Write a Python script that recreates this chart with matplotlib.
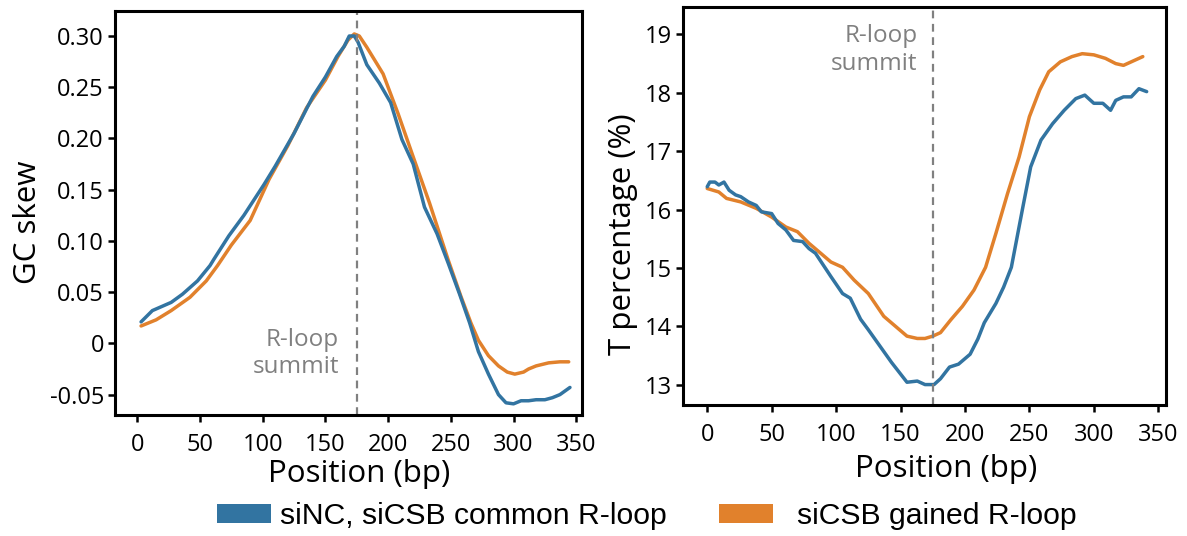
import matplotlib
matplotlib.use("Agg")
import matplotlib.pyplot as plt
from matplotlib.patches import Patch

# ---------------- data ----------------
gc_blue_x = [3, 12, 27, 36, 48, 58, 61, 73, 85, 101, 110, 125, 140, 150, 159, 165, 169, 173,
             176, 183, 193, 202, 211, 220, 229, 239, 248, 257, 265, 272, 280, 288, 294, 300,
             306, 312, 318, 325, 331, 337, 345]
gc_blue_y = [0.021, 0.032, 0.040, 0.048, 0.061, 0.076, 0.082, 0.105, 0.125, 0.155, 0.173, 0.205,
             0.241, 0.260, 0.280, 0.290, 0.300, 0.300, 0.294, 0.272, 0.254, 0.235, 0.199, 0.175,
             0.133, 0.107, 0.078, 0.048, 0.020, -0.008, -0.030, -0.050, -0.058, -0.059, -0.056,
             -0.056, -0.055, -0.055, -0.053, -0.050, -0.043]

gc_orange_x = [3, 15, 27, 42, 55, 64, 75, 90, 105, 120, 135, 150, 160, 168, 173, 177, 183, 196,
               208, 220, 233, 248, 258, 266, 272, 280, 288, 295, 301, 308, 312, 318, 328, 337, 344]
gc_orange_y = [0.017, 0.023, 0.032, 0.045, 0.061, 0.076, 0.096, 0.120, 0.160, 0.193, 0.230,
               0.257, 0.280, 0.296, 0.302, 0.300, 0.289, 0.263, 0.224, 0.182, 0.137, 0.081,
               0.046, 0.020, 0.003, -0.012, -0.022, -0.028, -0.030, -0.028, -0.025, -0.022,
               -0.019, -0.018, -0.018]

t_blue_x = [0, 2, 6, 9, 13, 17, 22, 26, 32, 38, 42, 50, 55, 61, 67, 74, 79, 84, 90, 96, 105,
            111, 119, 125, 134, 143, 149, 155, 163, 169, 176, 181, 188, 195, 204, 210, 215, 224,
            230, 236, 245, 251, 259, 268, 277, 286, 293, 300, 307, 313, 317, 323, 329, 335, 341]
t_blue_y = [16.39, 16.47, 16.47, 16.42, 16.47, 16.33, 16.25, 16.22, 16.13, 16.07, 15.96, 15.93,
            15.76, 15.65, 15.47, 15.45, 15.33, 15.25, 15.05, 14.85, 14.56, 14.48, 14.12, 13.94,
            13.66, 13.38, 13.21, 13.04, 13.06, 13.00, 13.00, 13.10, 13.30, 13.35, 13.52, 13.78,
            14.06, 14.39, 14.67, 15.01, 16.05, 16.73, 17.19, 17.47, 17.70, 17.90, 17.96, 17.82,
            17.82, 17.70, 17.87, 17.93, 17.93, 18.07, 18.02]

t_orange_x = [0, 9, 15, 26, 38, 50, 61, 70, 79, 87, 96, 105, 114, 125, 137, 146, 155, 163, 169,
              175, 181, 189, 198, 207, 216, 224, 233, 242, 250, 258, 265, 274, 283, 291, 300, 309,
              317, 323, 329, 338]
t_orange_y = [16.36, 16.30, 16.19, 16.13, 16.02, 15.87, 15.70, 15.62, 15.42, 15.27, 15.10,
              15.01, 14.79, 14.56, 14.17, 14.00, 13.83, 13.79, 13.79, 13.83, 13.89, 14.11,
              14.34, 14.62, 15.01, 15.59, 16.27, 16.90, 17.59, 18.05, 18.36, 18.53, 18.62,
              18.67, 18.65, 18.59, 18.50, 18.47, 18.53, 18.62]

summit_x = 175
x_ticks = [0, 50, 100, 150, 200, 250, 300, 350]
gc_ticks = [-0.05, 0, 0.05, 0.10, 0.15, 0.20, 0.25, 0.30]
gc_ticklabels = ["-0.05", "0", "0.05", "0.10", "0.15", "0.20", "0.25", "0.30"]
t_ticks = [13, 14, 15, 16, 17, 18, 19]
labels = ["siNC, siCSB common R-loop", "siCSB gained R-loop"]

BLUE = "#3274A1"
ORANGE = "#E1812C"
GRAY = "#808080"
FONT = "Open Sans"

W, H = 1187, 536
fig = plt.figure(figsize=(W / 100, H / 100), dpi=100)

def px_axes(l, r, t, b):
    return fig.add_axes([l / W, 1 - b / H, (r - l) / W, (b - t) / H])

ax1 = px_axes(115, 582, 11, 415)
ax2 = px_axes(683, 1166, 7, 405)

def style(ax):
    for s in ax.spines.values():
        s.set_linewidth(2.2)
        s.set_color("black")
    ax.tick_params(axis="both", direction="out", length=5, width=1.8, labelsize=17, color="black")
    ax.tick_params(axis="x", pad=8)
    ax.tick_params(axis="y", pad=3)
    for lab in ax.get_xticklabels() + ax.get_yticklabels():
        lab.set_fontfamily(FONT)

# left panel
ax1.plot(gc_orange_x, gc_orange_y, color=ORANGE, lw=2.5, solid_capstyle="round")
ax1.plot(gc_blue_x, gc_blue_y, color=BLUE, lw=2.5, solid_capstyle="round")
ax1.axvline(summit_x, color=GRAY, lw=1.6, ls=(0, (3.5, 2.5)))
ax1.text(161, -0.010, "R-loop\nsummit", ha="right", va="center", color=GRAY,
         fontsize=17.5, family=FONT, linespacing=1.2)
ax1.set_xlim(-17.8, 354.6)
ax1.set_ylim(-0.0699, 0.3244)
ax1.set_xticks(x_ticks)
ax1.set_yticks(gc_ticks)
ax1.set_yticklabels(gc_ticklabels)
ax1.set_xlabel("Position (bp)", fontsize=22.5, family=FONT, labelpad=1.5)
ax1.set_ylabel("GC skew", fontsize=22.5, family=FONT, labelpad=5)
ax1.xaxis.label.set_x(0.5235)
ax1.yaxis.label.set_y(0.478)
style(ax1)

# right panel
ax2.plot(t_orange_x, t_orange_y, color=ORANGE, lw=2.5, solid_capstyle="round")
ax2.plot(t_blue_x, t_blue_y, color=BLUE, lw=2.5, solid_capstyle="round")
ax2.axvline(summit_x, color=GRAY, lw=1.6, ls=(0, (3.5, 2.5)))
ax2.text(163, 18.73, "R-loop\nsummit", ha="right", va="center", color=GRAY,
         fontsize=17.5, family=FONT, linespacing=1.2)
ax2.set_xlim(-18.8, 356)
ax2.set_ylim(12.65, 19.47)
ax2.set_xticks(x_ticks)
ax2.set_yticks(t_ticks)
ax2.set_xlabel("Position (bp)", fontsize=22.5, family=FONT, labelpad=5)
ax2.set_ylabel("T percentage (%)", fontsize=22.5, family=FONT, labelpad=5)
ax2.xaxis.label.set_x(0.5445)
ax2.yaxis.label.set_y(0.43)
style(ax2)

# legends
h1 = Patch(facecolor=BLUE, edgecolor="none")
h2 = Patch(facecolor=ORANGE, edgecolor="none")
common = dict(frameon=False, borderpad=0, borderaxespad=0, handlelength=1.8, handleheight=0.6,
              prop={"family": "Liberation Sans", "size": 21.7}, loc="center left")
fig.legend([h1], [labels[0]], bbox_to_anchor=(217 / W, 1 - 516 / H), handletextpad=0.28, **common)
fig.legend([h2], [labels[1]], bbox_to_anchor=(719 / W, 1 - 516 / H), handletextpad=0.78, **common)

fig.savefig("out.png", dpi=100)
